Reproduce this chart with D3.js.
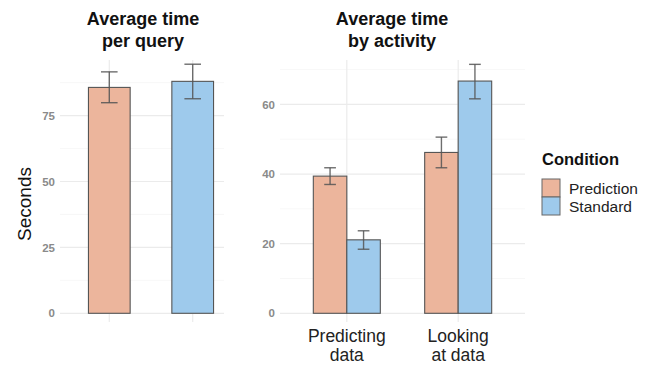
<!DOCTYPE html>
<html><head><meta charset="utf-8">
<script src="https://cdn.jsdelivr.net/npm/d3@7"></script>
<style>body{margin:0;background:#fff}svg{display:block}text{font-family:"Liberation Sans",Arial,sans-serif}</style>
</head><body><svg id="c" width="652" height="366"></svg>
<script>
// ---- data ----
const conditions = ["Prediction", "Standard"];
const colors = ["#ECB59C", "#9ECAEC"];
// overall average per query
const overallMean = [85.7, 88.0];
const overallLow = [79.9, 81.4];
const overallHigh = [91.6, 94.5];
// by activity
const activities = ["Predicting\ndata", "Looking\nat data"];
const actPredMean = [39.4, 46.2];
const actPredLow = [37.0, 41.8];
const actPredHigh = [41.8, 50.6];
const actStdMean = [21.1, 66.7];
const actStdLow = [18.4, 61.6];
const actStdHigh = [23.7, 71.5];
const leftTicks = [0, 25, 50, 75];
const leftMinor = [12.5, 37.5, 62.5, 87.5];
const rightTicks = [0, 20, 40, 60];
const rightMinor = [10, 30, 50, 70];

const svg = d3.select("#c");
const color = d3.scaleOrdinal().domain(conditions).range(colors);
const panelTop = 60, zeroY = 313.3, panelBottom = 322;

function grid(g, y, x0, x1, major, minor, vx) {
  g.selectAll(".mn").data(minor).enter().append("line")
    .attr("x1", x0).attr("x2", x1).attr("y1", d => y(d)).attr("y2", d => y(d))
    .attr("stroke", "#f3f3f3").attr("stroke-width", 0.7);
  g.selectAll(".mj").data(major).enter().append("line")
    .attr("x1", x0).attr("x2", x1).attr("y1", d => y(d)).attr("y2", d => y(d))
    .attr("stroke", "#ebebeb").attr("stroke-width", 1.2);
  g.selectAll(".vx").data(vx).enter().append("line")
    .attr("x1", d => d).attr("x2", d => d).attr("y1", panelTop).attr("y2", panelBottom)
    .attr("stroke", "#ebebeb").attr("stroke-width", 1.2);
  g.selectAll(".tl").data(major).enter().append("text")
    .attr("x", x0 - 5).attr("y", d => y(d)).attr("dy", "0.36em")
    .attr("text-anchor", "end").attr("font-size", 11.5).attr("font-weight", "bold")
    .attr("fill", "#8a8a8a").text(d => d);
}

function errbar(g, cx, lo, hi, y, cap) {
  g.append("line").attr("x1", cx).attr("x2", cx).attr("y1", y(lo)).attr("y2", y(hi));
  g.append("line").attr("x1", cx - cap / 2).attr("x2", cx + cap / 2).attr("y1", y(lo)).attr("y2", y(lo));
  g.append("line").attr("x1", cx - cap / 2).attr("x2", cx + cap / 2).attr("y1", y(hi)).attr("y2", y(hi));
}

// ---- left panel ----
const L = svg.append("g");
const yL = d3.scaleLinear().domain([0, 96.1]).range([zeroY, panelTop]);
const xL = d3.scalePoint().domain(conditions).range([109.3, 192.7]);
const bwL = 41.7;
grid(L, yL, 60, 224, leftTicks, leftMinor, conditions.map(c => xL(c)));
L.selectAll(".bar").data(conditions).enter().append("rect")
  .attr("x", d => xL(d) - bwL / 2).attr("width", bwL)
  .attr("y", (d, i) => yL(overallMean[i])).attr("height", (d, i) => yL(0) - yL(overallMean[i]))
  .attr("fill", d => color(d)).attr("stroke", "#555").attr("stroke-width", 1.1);
const eL = L.append("g").attr("stroke", "#555").attr("stroke-opacity", 0.85).attr("stroke-width", 1.4);
conditions.forEach((c, i) => errbar(eL, xL(c), overallLow[i], overallHigh[i], yL, 16.6));
L.append("text").attr("x", 143).attr("y", 25).attr("text-anchor", "middle")
  .attr("font-size", 18).attr("font-weight", "bold").attr("fill", "#111")
  .selectAll("tspan").data(["Average time", "per query"]).enter().append("tspan")
  .attr("x", 143).attr("dy", (d, i) => i ? 21.5 : 0).text(d => d);
svg.append("text").attr("transform", "translate(31,204) rotate(-90)")
  .attr("text-anchor", "middle").attr("font-size", 19).attr("fill", "#111").text("Seconds");

// ---- right panel ----
const R = svg.append("g");
const yR = d3.scaleLinear().domain([0, 72.75]).range([zeroY, panelTop]);
const xR = d3.scalePoint().domain(activities).range([280, 525]).padding(0.6);
const xSub = d3.scaleBand().domain(conditions).range([-33.5, 33.5]);
grid(R, yR, 280, 525, rightTicks, rightMinor, activities.map(a => xR(a)));
const rows = [];
activities.forEach((a, i) => {
  rows.push({a, c: "Prediction", m: actPredMean[i], lo: actPredLow[i], hi: actPredHigh[i]});
  rows.push({a, c: "Standard", m: actStdMean[i], lo: actStdLow[i], hi: actStdHigh[i]});
});
R.selectAll(".bar").data(rows).enter().append("rect")
  .attr("x", d => xR(d.a) + xSub(d.c)).attr("width", xSub.bandwidth())
  .attr("y", d => yR(d.m)).attr("height", d => yR(0) - yR(d.m))
  .attr("fill", d => color(d.c)).attr("stroke", "#555").attr("stroke-width", 1.1);
const eR = R.append("g").attr("stroke", "#555").attr("stroke-opacity", 0.85).attr("stroke-width", 1.4);
rows.forEach(d => errbar(eR, xR(d.a) + xSub(d.c) + xSub.bandwidth() / 2, d.lo, d.hi, yR, 11.7));
R.append("text").attr("text-anchor", "middle")
  .attr("font-size", 18).attr("font-weight", "bold").attr("fill", "#111").attr("y", 25)
  .selectAll("tspan").data(["Average time", "by activity"]).enter().append("tspan")
  .attr("x", 392).attr("dy", (d, i) => i ? 21.5 : 0).text(d => d);
activities.forEach(a => {
  const t = R.append("text").attr("text-anchor", "middle").attr("font-size", 17.5).attr("fill", "#222").attr("y", 342);
  a.split("\n").forEach((s, i) => t.append("tspan").attr("x", xR(a)).attr("dy", i ? 19 : 0).text(s));
});

// ---- legend ----
const lg = svg.append("g");
lg.append("text").attr("x", 542).attr("y", 165).attr("font-size", 16.5).attr("font-weight", "bold").attr("fill", "#111").text("Condition");
conditions.forEach((c, i) => {
  lg.append("rect").attr("x", 542).attr("y", 179 + i * 18).attr("width", 18).attr("height", 18)
    .attr("fill", color(c)).attr("stroke", "#666").attr("stroke-width", 1);
  lg.append("text").attr("x", 569).attr("y", 188 + i * 18).attr("dy", "0.36em")
    .attr("font-size", 15.5).attr("fill", "#222").text(c);
});
</script></body></html>
